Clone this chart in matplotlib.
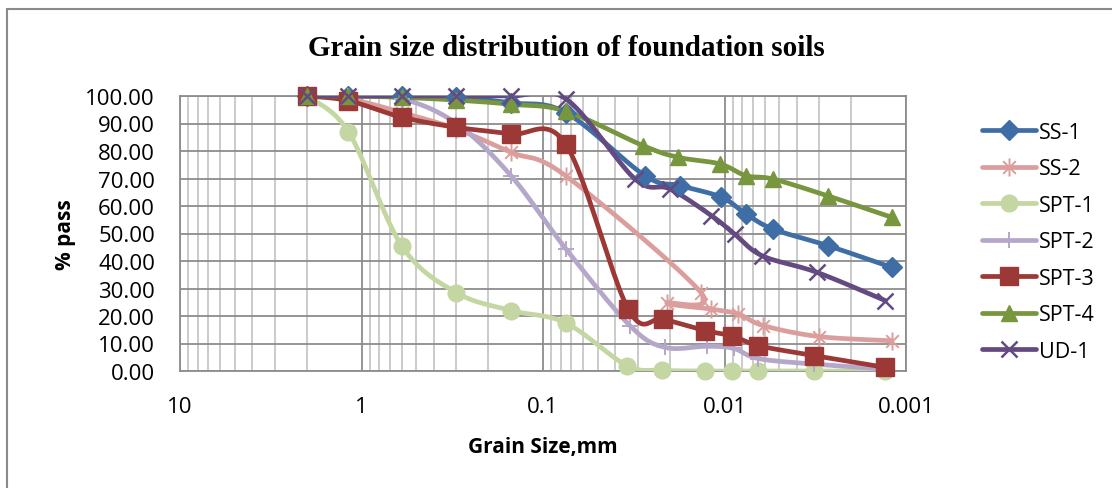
import numpy as np
import matplotlib
matplotlib.use("Agg")
import matplotlib.pyplot as plt
from matplotlib.lines import Line2D
from matplotlib.patches import Rectangle
from matplotlib.path import Path
from matplotlib.ticker import LogLocator, FixedLocator, FixedFormatter, NullFormatter

plt.rcParams["font.family"] = ["Open Sans", "DejaVu Sans"]

# sieve openings (mm), shared by every sample
sieve_mm = [2.0, 1.18, 0.6, 0.3, 0.15, 0.075]

# percent passing on the sieves
ss1_sieve = [100.0, 100.0, 100.0, 99.5, 97.5, 94.0]
ss2_sieve = [100.0, 99.0, 94.0, 88.0, 79.5, 71.0]
spt1_sieve = [100.0, 87.0, 45.5, 28.5, 22.0, 17.5]
spt2_sieve = [100.0, 100.0, 99.0, 90.0, 71.0, 44.5]
spt3_sieve = [100.0, 98.3, 92.3, 88.6, 86.2, 82.5]
spt4_sieve = [100.0, 100.0, 99.5, 98.5, 97.0, 94.5]
ud1_sieve = [100.0, 100.0, 100.0, 100.0, 100.0, 99.0]

# hydrometer diameters (mm) and percent finer
ss1_hyd_d = [0.0274, 0.0176, 0.0104, 0.0076, 0.0054, 0.0027, 0.0012]
ss1_hyd_p = [71.0, 67.4, 63.2, 57.1, 51.6, 45.6, 37.7]
ss2_hyd_d = [0.0134, 0.0208, 0.0118, 0.0084, 0.0061, 0.0030, 0.0012]
ss2_hyd_p = [28.3, 24.8, 22.5, 20.7, 16.5, 12.5, 11.0]
spt1_hyd_d = [0.0346, 0.0222, 0.0128, 0.0091, 0.0065, 0.0032, 0.0013]
spt1_hyd_p = [2.0, 0.3, 0.0, 0.0, 0.0, 0.0, 0.0]
spt2_hyd_d = [0.0332, 0.0213, 0.0125, 0.0089, 0.0065, 0.0032, 0.0013]
spt2_hyd_p = [16.5, 8.6, 9.0, 8.2, 4.5, 2.5, 0.7]
spt3_hyd_d = [0.0339, 0.0217, 0.0128, 0.0091, 0.0065, 0.0032, 0.0013]
spt3_hyd_p = [22.5, 18.9, 14.7, 12.8, 9.2, 5.6, 1.3]
spt4_hyd_d = [0.0280, 0.0180, 0.0106, 0.0076, 0.0054, 0.0027, 0.0012]
spt4_hyd_p = [81.9, 77.7, 75.3, 71.0, 69.8, 63.7, 55.9]
ud1_hyd_d = [0.0311, 0.0200, 0.0118, 0.0088, 0.0062, 0.0031, 0.0013]
ud1_hyd_p = [69.8, 66.2, 56.5, 49.8, 41.9, 35.9, 25.6]

labels = ["SS-1", "SS-2", "SPT-1", "SPT-2", "SPT-3", "SPT-4", "UD-1"]
x_ticks = [10, 1, 0.1, 0.01, 0.001]
x_tick_labels = ["10", "1", "0.1", "0.01", "0.001"]
y_ticks = np.arange(0, 101, 10)

# asterisk: vertical bar plus two diagonals
star_path = Path(
    [(0, -1), (0, 1), (-0.7, -0.7), (0.7, 0.7), (-0.7, 0.7), (0.7, -0.7)],
    [Path.MOVETO, Path.LINETO, Path.MOVETO, Path.LINETO, Path.MOVETO, Path.LINETO])

styles = [
    dict(color="#3F6DA6", marker="D", ms=10, mew=1),
    dict(color="#DB9E9C", marker=star_path, ms=13, mew=1.4),
    dict(color="#C4D6A2", marker="o", ms=12, mew=1),
    dict(color="#B5A7C9", marker="+", ms=12, mew=1.4),
    dict(color="#9C3936", marker="s", ms=13, mew=1),
    dict(color="#77963D", marker="^", ms=12, mew=1),
    dict(color="#634A80", marker="x", ms=11, mew=1.8),
]


def smooth(xs, ys, n=24):
    """Catmull-Rom curve through the points, built in log-x space."""
    pts = np.column_stack([np.log10(xs), ys])
    out = [pts[:1]]
    t = np.linspace(0, 1, n)[1:, None]
    for i in range(len(pts) - 1):
        p0 = pts[max(i - 1, 0)]
        p1 = pts[i]
        p2 = pts[i + 1]
        p3 = pts[min(i + 2, len(pts) - 1)]
        c1 = p1 + (p2 - p0) / 6
        c2 = p2 - (p3 - p1) / 6
        seg = ((1 - t) ** 3 * p1 + 3 * (1 - t) ** 2 * t * c1
               + 3 * (1 - t) * t ** 2 * c2 + t ** 3 * p2)
        out.append(seg)
    pts = np.vstack(out)
    return 10 ** pts[:, 0], pts[:, 1]


series = [
    (ss1_sieve, ss1_hyd_d, ss1_hyd_p),
    (ss2_sieve, ss2_hyd_d, ss2_hyd_p),
    (spt1_sieve, spt1_hyd_d, spt1_hyd_p),
    (spt2_sieve, spt2_hyd_d, spt2_hyd_p),
    (spt3_sieve, spt3_hyd_d, spt3_hyd_p),
    (spt4_sieve, spt4_hyd_d, spt4_hyd_p),
    (ud1_sieve, ud1_hyd_d, ud1_hyd_p),
]

W, H = 1112, 489
fig = plt.figure(figsize=(W / 100, H / 100), dpi=100)
fig.patches.append(Rectangle((7 / W, -0.1), 1.2, (H - 10) / H + 0.1,
                             transform=fig.transFigure, fill=False,
                             edgecolor="#8a8a8a", lw=1.5))

ax = fig.add_axes([180 / W, 1 - 372 / H, 726 / W, 275 / H])
ax.set_xscale("log")
ax.set_xlim(10, 0.001)
ax.set_ylim(0, 100)

handles = []
for (sv, hd, hp), lab, st in zip(series, labels, styles):
    xs = np.array(sieve_mm + hd)
    ys = np.array(sv + hp)
    cx, cy = smooth(xs, ys)
    ax.plot(cx, cy, color=st["color"], lw=3.4, solid_capstyle="round",
            solid_joinstyle="round", zorder=3)
    ax.plot(xs, ys, ls="none", marker=st["marker"], ms=st["ms"],
            mew=st["mew"], color=st["color"], mec=st["color"],
            clip_on=False, zorder=4)
    handles.append(Line2D([], [], color=st["color"], lw=3.4,
                          solid_capstyle="round", marker=st["marker"],
                          ms=st["ms"], mew=st["mew"], mec=st["color"],
                          label=lab))

ax.xaxis.set_major_locator(FixedLocator(x_ticks))
ax.xaxis.set_major_formatter(FixedFormatter(x_tick_labels))
ax.xaxis.set_minor_locator(LogLocator(base=10, subs=np.arange(2, 10)))
ax.xaxis.set_minor_formatter(NullFormatter())
ax.set_yticks(y_ticks)
ax.set_yticklabels([f"{v:.2f}" for v in y_ticks])
ax.tick_params(which="both", length=0, labelsize=16, pad=18, colors="black")

ax.set_axisbelow(True)
ax.grid(which="major", axis="both", color="#8c8c8c", lw=1.3)
ax.grid(which="minor", axis="x", color="#bdbdbd", lw=1.1)
for sp in ax.spines.values():
    sp.set_color("#8c8c8c")
    sp.set_linewidth(1.3)

fig.text(566 / W, 1 - 48 / H, "Grain size distribution of foundation soils",
         family="Liberation Serif", weight="bold", fontsize=21,
         ha="center", va="center")
fig.text(543 / W, 1 - 447 / H, "Grain Size,mm", weight="bold", fontsize=15,
         ha="center", va="center")
fig.text(65 / W, 1 - 235 / H, "% pass", weight="bold", fontsize=15,
         rotation=90, ha="center", va="center")

fig.legend(handles=handles, loc="center left",
           bbox_to_anchor=(982 / W, 1 - 243 / H), frameon=False,
           fontsize=15.5, numpoints=1, handlelength=2.5, handletextpad=0.15,
           labelspacing=0.72, borderpad=0, borderaxespad=0)

fig.savefig("out.png", dpi=100)
